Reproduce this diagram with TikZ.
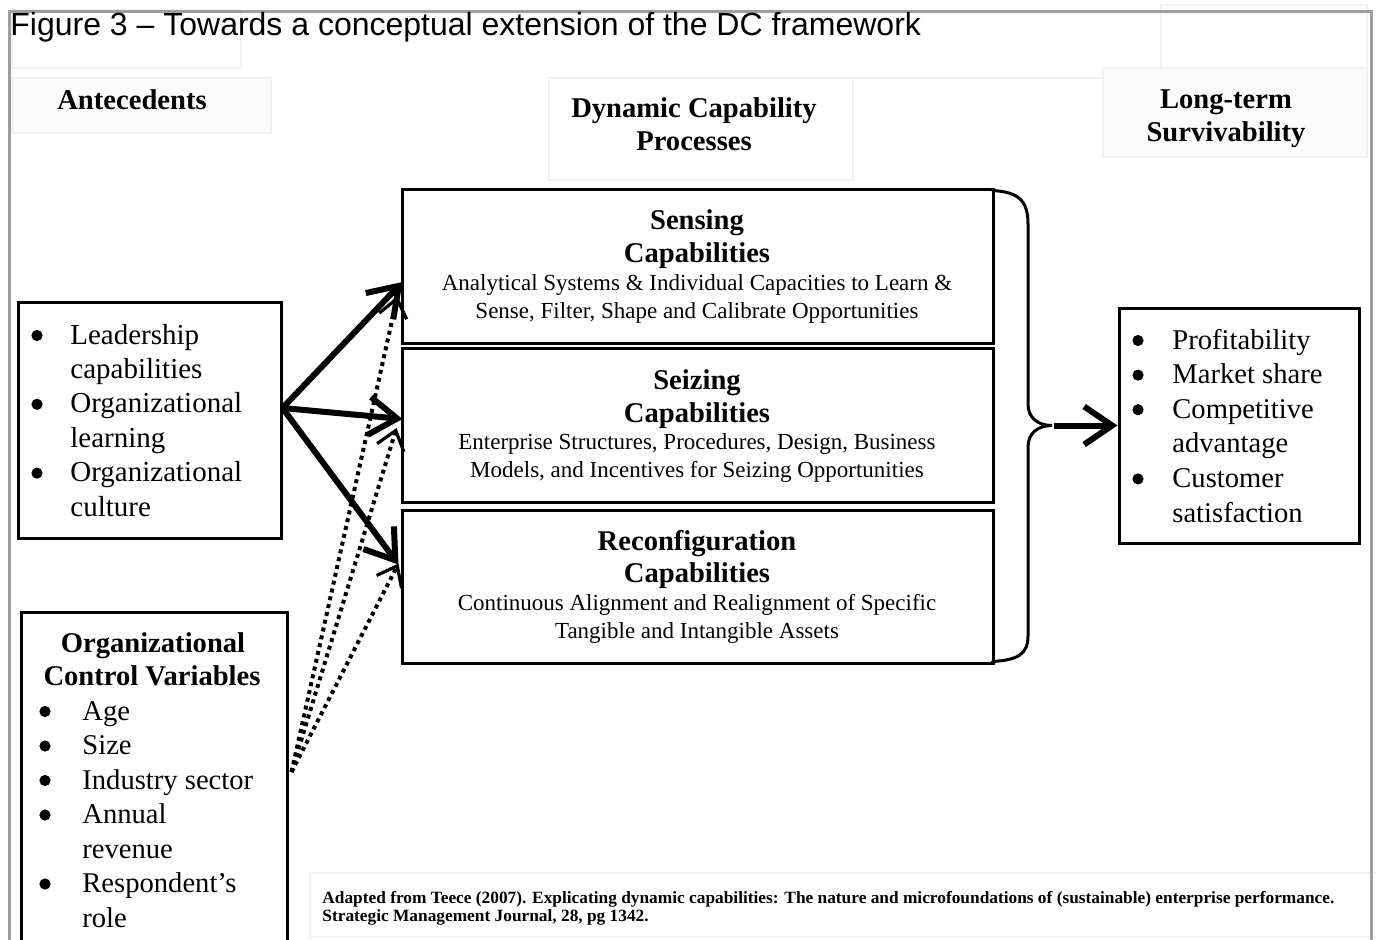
\documentclass[tikz,border=0pt]{standalone}
\usepackage{fontspec}
\setmainfont{Liberation Serif}
\newfontfamily\arialfont{Liberation Sans}
\usepackage{graphicx}
\usetikzlibrary{arrows.meta,calc}

\begin{document}
\begin{tikzpicture}[x=0.5pt,y=-0.5pt,
  panel/.style={draw=black!5,line width=0.6pt,fill=black!1.5},
  blank/.style={draw=black!5,line width=0.6pt,fill=white},
  boxframe/.style={draw,line width=1.5pt,inner sep=0pt,fill=white},
  head/.style={font=\fontsize{14.3}{16.5}\selectfont\bfseries,anchor=base,inner sep=0pt},
  capbody/.style={font=\fontsize{11.5}{14}\selectfont,anchor=base,inner sep=0pt},
  listtext/.style={anchor=base west,inner sep=0pt},
  dotmark/.style={fill=black},
  thickarrow/.style={line width=3pt,-{Straight Barb[length=14pt,width=19pt,line width=3pt]}},
  dotarrow/.style={line width=2pt,dash pattern=on 2pt off 2pt,
    -{Straight Barb[length=9pt,width=14pt,line width=1.6pt]}},
]
\useasboundingbox (0,0) rectangle (1376,939);

% pasted panels behind the headings
\draw[blank] (12,10) rectangle (241,68);
\draw[panel] (12,78) rectangle (271,133);
\draw[blank] (549,78) rectangle (853,180);
\draw[draw=black!5,line width=0.6pt] (853,78) -- (1103,78);
\draw[panel] (1103,68) rectangle (1367,157);
\draw[blank] (1161,5) rectangle (1367,68);
\draw[blank] (310,873) rectangle (1380,937);

% outer frame
\draw[black!38,line width=1.5pt] (9,960) -- (9,11) -- (1371,11) -- (1371,960);

% title
\node[anchor=base west,inner sep=0pt,font=\arialfont\fontsize{16}{19}\selectfont] (title) at (10,35)
  {Figure 3 – Towards a conceptual extension of the DC framework};

% column headings
\node[head] (hante) at (132,109) {Antecedents};
\node[head] (hdc1) at (694,117) {Dynamic Capability};
\node[head] (hdc2) at (694,150) {Processes};
\node[head] (hlt1) at (1226,108) {Long-term};
\node[head] (hlt2) at (1226,141) {Survivability};

% capability boxes
\node[boxframe,minimum width=295.5pt,minimum height=77pt] (sens) at (697.5,266) {};
\node[boxframe,minimum width=295.5pt,minimum height=77pt] (seiz) at (697.5,425) {};
\node[boxframe,minimum width=295.5pt,minimum height=76.5pt] (reco) at (697.5,586.5) {};

\node[head] (sens1) at (697,229) {Sensing};
\node[head] (sens2) at (697,262) {Capabilities};
\node[capbody] (sens3) at (697,290) {Analytical Systems \& Individual Capacities to Learn \&};
\node[capbody] (sens4) at (697,318) {Sense, Filter, Shape and Calibrate Opportunities};

\node[head] (seiz1) at (697,389) {Seizing};
\node[head] (seiz2) at (697,422) {Capabilities};
\node[capbody] (seiz3) at (697,449) {Enterprise Structures, Procedures, Design, Business};
\node[capbody] (seiz4) at (697,477) {Models, and Incentives for Seizing Opportunities};

\node[head] (reco1) at (697,550) {Reconfiguration};
\node[head] (reco2) at (697,582) {Capabilities};
\node[capbody] (reco3) at (697,610) {Continuous Alignment and Realignment of Specific};
\node[capbody] (reco4) at (697,638) {Tangible and Intangible Assets};

% antecedents box
\node[boxframe,minimum width=131.5pt,minimum height=118pt] (ante) at (149.5,420) {};
\node[listtext] (antelist) at (70,344) {\fontsize{14.5}{17.2}\selectfont
  \begin{tabular}[t]{@{}l@{}}
  Leadership\\ capabilities\\
  Organizational\\ learning\\
  Organizational\\ culture
  \end{tabular}};
\foreach \y in {335.5,404.3,473.1} \fill[dotmark] (37,\y) circle[radius=2.8pt];

% outcome box
\node[boxframe,minimum width=120pt,minimum height=117.5pt] (outc) at (1239,425.5) {};
\node[listtext] (outlist) at (1172,349) {\fontsize{14.3}{17.3}\selectfont
  \begin{tabular}[t]{@{}l@{}}
  Profitability\\
  Market share\\
  Competitive\\ advantage\\
  Customer\\ satisfaction
  \end{tabular}};
\foreach \y in {340.5,375.1,409.7,478.9} \fill[dotmark] (1138,\y) circle[radius=2.8pt];

% control variables box
\node[boxframe,minimum width=133pt,minimum height=174pt] (ctrl) at (154,786) {};
\node[head] (ctrl1) at (153,652) {Organizational};
\node[head] (ctrl2) at (152,685) {Control Variables};
\node[listtext] (ctrllist) at (82,720) {\fontsize{14.3}{17.25}\selectfont
  \begin{tabular}[t]{@{}l@{}}
  Age\\
  Size\\
  Industry sector\\
  Annual\\ revenue\\
  Respondent’s\\ role
  \end{tabular}};
\foreach \y in {711.5,746,780.5,815,884} \fill[dotmark] (45,\y) circle[radius=2.8pt];

% control variables to capabilities
\coordinate (cvs) at ($(ctrl.east)+(3,-14)$);
\draw[dotarrow] (cvs) -- ($(sens.west)+(-3,30)$);
\draw[dotarrow] (cvs) -- ($(seiz.west)+(-4,3)$);
\draw[dotarrow] (cvs) -- ($(reco.west)+(-2,-23)$);

% antecedents to capabilities
\coordinate (src) at ($(ante.east)+(0,-12)$);
\draw[thickarrow] (src) -- ($(sens.west)+(2,16)$);
\draw[thickarrow] (src) -- ($(seiz.west)+(2,-6)$);
\draw[thickarrow] (src) -- ($(reco.west)+(-2,-22)$);

% brace gathering the three capabilities
\coordinate (btip) at (1052,425.5);
\draw[line width=1.5pt,line cap=round]
  ($(sens.north east)+(-2,3)$) .. controls (1018,192) and (1028,200) .. (1028,224)
  -- (1028,404) .. controls (1028,418) and (1038,425.5) .. (btip)
  .. controls (1038,425.5) and (1028,433) .. (1028,447)
  -- (1028,636) .. controls (1028,654) and (1018,660) .. ($(reco.south east)+(-2,-3)$);
\draw[thickarrow] ($(btip)+(2,0)$) -- (btip -| outc.west);

% source note
\node[anchor=base west,inner sep=0pt,font=\bfseries\fontsize{8.6}{9}\selectfont] (note) at (322,903)
  {\resizebox{506pt}{\height}{\begin{tabular}[t]{@{}l@{}}
  Adapted from Teece (2007). Explicating dynamic capabilities: The nature and microfoundations of (sustainable) enterprise performance.\\
  Strategic Management Journal, 28, pg 1342.
  \end{tabular}}};
\end{tikzpicture}
\end{document}
